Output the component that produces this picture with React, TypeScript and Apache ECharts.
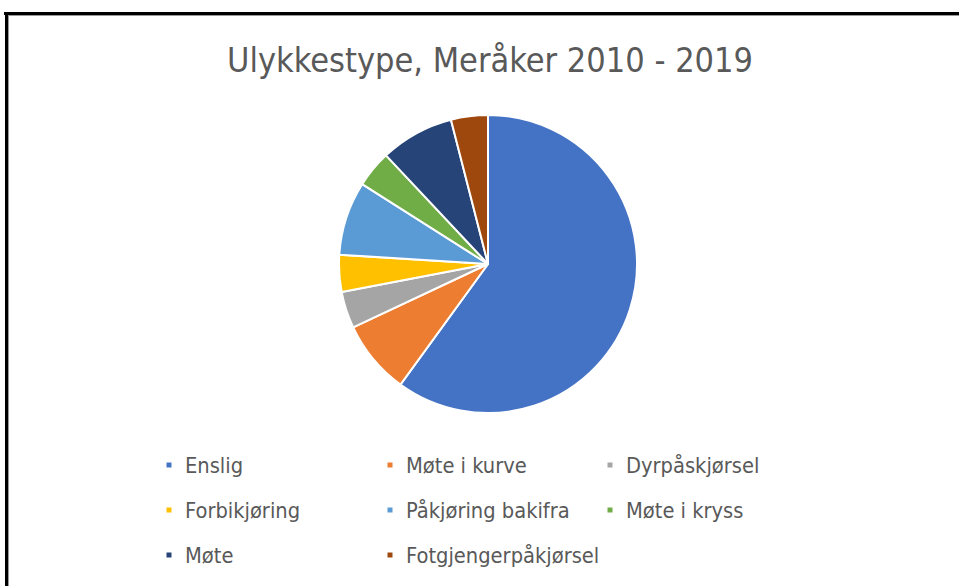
import React, { useEffect, useRef } from "react";
import * as echarts from "echarts";

const titleText = "Ulykkestype, Meråker 2010 - 2019";
const categories = [
  "Enslig",
  "Møte i kurve",
  "Dyrpåskjørsel",
  "Forbikjøring",
  "Påkjøring bakifra",
  "Møte i kryss",
  "Møte",
  "Fotgjengerpåkjørsel",
];
const values = [15, 2, 1, 1, 2, 1, 2, 1];
const colors = [
  "#4472C4",
  "#ED7D31",
  "#A5A5A5",
  "#FFC000",
  "#5B9BD5",
  "#70AD47",
  "#264478",
  "#9E480E",
];
const legendColumns = [
  ["Enslig", "Forbikjøring", "Møte"],
  ["Møte i kurve", "Påkjøring bakifra", "Fotgjengerpåkjørsel"],
  ["Dyrpåskjørsel", "Møte i kryss"],
];
const legendLefts = [159.5, 380.5, 600.5];

const FONT = "'Liberation Sans Narrow', 'DejaVu Sans Condensed', 'Liberation Sans', sans-serif";

export default function App() {
  const ref = useRef<HTMLDivElement>(null);
  useEffect(() => {
    if (!ref.current) return;
    const chart = echarts.init(ref.current, null, { renderer: "svg" });
    chart.setOption({
      animation: false,
      backgroundColor: "#ffffff",
      color: colors,
      title: {
        text: titleText,
        left: 222,
        top: 38,
        textStyle: {
          fontFamily: FONT,
          fontSize: 34,
          fontWeight: "normal",
          color: "#595959",
        },
      },
      legend: legendColumns.map((col, i) => ({
        left: legendLefts[i],
        top: 442.5,
        orient: "vertical",
        itemWidth: 22,
        itemHeight: 7,
        itemGap: 10,
        icon: "path://M0,0h10v10h-10z",
        textStyle: {
          fontFamily: FONT,
          fontSize: 21.7,
          color: "#595959",
          lineHeight: 35,
        },
        data: col,
      })),
      graphic: [
        { type: "line", shape: { x1: 4, y1: 13.5, x2: 959, y2: 13.5 }, style: { stroke: "#000", lineWidth: 3 } },
        { type: "line", shape: { x1: 8, y1: 15.5, x2: 959, y2: 15.5 }, style: { stroke: "#999", lineWidth: 1 } },
        { type: "line", shape: { x1: 6.5, y1: 12, x2: 6.5, y2: 586 }, style: { stroke: "#000", lineWidth: 3 } },
        { type: "line", shape: { x1: 8.5, y1: 15, x2: 8.5, y2: 586 }, style: { stroke: "#999", lineWidth: 1 } },
      ],
      series: [
        {
          type: "pie",
          center: [488, 264],
          radius: [0, 149],
          startAngle: 90,
          clockwise: true,
          label: { show: false },
          labelLine: { show: false },
          emphasis: { disabled: true },
          itemStyle: { borderColor: "#ffffff", borderWidth: 2 },
          data: categories.map((name, i) => ({ name, value: values[i] })),
        },
      ],
    });
    return () => chart.dispose();
  }, []);
  return (
    <div
      ref={ref}
      style={{ position: "fixed", left: 0, top: 0, width: 959, height: 586, background: "#fff" }}
    />
  );
}
